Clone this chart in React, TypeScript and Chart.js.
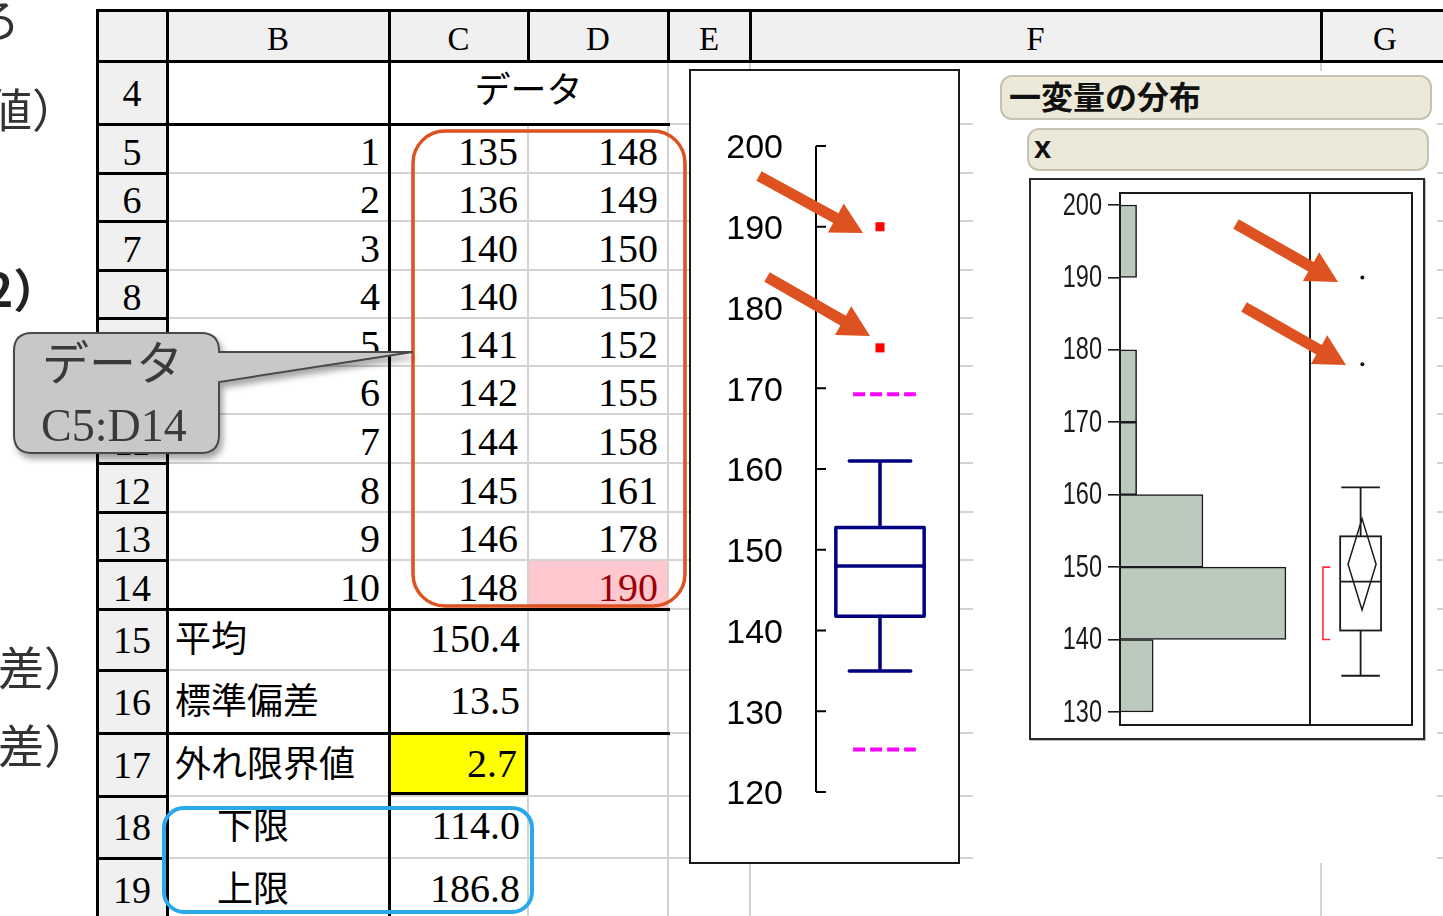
import React, { useEffect, useRef } from 'react';
import { Chart, registerables } from 'chart.js';

Chart.register(...registerables);

// ---------- spreadsheet contents ----------
const columnLetters = ['B', 'C', 'D', 'E', 'F', 'G'];
const rowNumbers = [4, 5, 6, 7, 8, 9, 10, 11, 12, 13, 14, 15, 16, 17, 18, 19];
const sampleNumbers = [1, 2, 3, 4, 5, 6, 7, 8, 9, 10];
const dataC = [135, 136, 140, 140, 141, 142, 144, 145, 146, 148];
const dataD = [148, 149, 150, 150, 152, 155, 158, 161, 178, 190];
const statLabels = ['平均', '標準偏差', '外れ限界値', '下限', '上限'];
const statValues = ['150.4', '13.5', '2.7', '114.0', '186.8'];
const dataHeader = 'データ';
const calloutLines = ['データ', 'C5:D14'];
const sideFragments = ['ろ', '値）', '2）', '差）', '差）'];

// ---------- Excel box plot ----------
const excelBox = [135, 141.75, 148, 152.75, 161]; // low whisker, Q1, median, Q3, high whisker
const excelOutliers = [190, 175];
const excelFences = [169.25, 125.25];
const excelTicks = [120, 130, 140, 150, 160, 170, 180, 190, 200];

// ---------- JMP distribution ----------
const jmpTitle = '一変量の分布';
const jmpVar = 'x';
const histBinCenters = [135, 145, 155, 165, 175, 185, 195];
const histCounts = [2, 10, 5, 1, 1, 0, 1];
const jmpBox = [135, 141.25, 148, 154.25, 161];
const jmpOutliers = [178, 190];
const jmpMeanDiamond = [144.1, 150.4, 156.7];
const jmpShortestHalf = [140, 150];
const jmpTicks = [130, 140, 150, 160, 170, 180, 190, 200];

// ---------- layout ----------
const COLS = [97, 167, 389, 528, 668, 750, 1321, 1449];
const ROWS = [10, 61, 124, 173, 221, 270, 318, 366, 414, 463, 512, 560, 609, 670, 733, 796, 858, 922];

const SERIF = '"Liberation Serif", "Times New Roman", serif';
const JP = '"Noto Sans CJK JP", "Noto Sans", sans-serif';
const SANS = '"Liberation Sans", Arial, sans-serif';
const GREY = '#d3d3d3';
const BLACK = '#000';
const ORANGE = '#dd5220';

function Cell(props: any) {
  const { x1, x2, y1, y2, children, align = 'center', font = SERIF, size = 40, color = '#000', pad = 10, dy = 0, weight = 'normal' } = props;
  return (
    <div
      style={{
        position: 'absolute', left: x1, top: y1 + dy, width: x2 - x1, height: y2 - y1,
        display: 'flex', alignItems: 'center',
        justifyContent: align === 'left' ? 'flex-start' : align === 'right' ? 'flex-end' : 'center',
        paddingLeft: align === 'left' ? pad : 0, paddingRight: align === 'right' ? pad : 0,
        boxSizing: 'border-box', fontFamily: font, fontSize: size, lineHeight: 1, color,
        whiteSpace: 'nowrap', fontWeight: weight,
      }}
    >
      {children}
    </div>
  );
}

function hl(x1: number, x2: number, y: number, w: number, c: string, k: string) {
  return <div key={k} style={{ position: 'absolute', left: x1 - w / 2, top: y - w / 2, width: x2 - x1 + w, height: w, background: c }} />;
}
function vl(x: number, y1: number, y2: number, w: number, c: string, k: string) {
  return <div key={k} style={{ position: 'absolute', left: x - w / 2, top: y1 - w / 2, width: w, height: y2 - y1 + w, background: c }} />;
}

function arrowPoints(sx: number, sy: number, tx: number, ty: number, shaft = 11, headW = 33, headL = 31) {
  const dx = tx - sx, dy = ty - sy;
  const L = Math.hypot(dx, dy);
  const ux = dx / L, uy = dy / L;
  const nx = -uy, ny = ux;
  const bx = tx - ux * headL, by = ty - uy * headL;
  const hs = shaft / 2, hh = headW / 2;
  const pts = [
    [sx + nx * hs, sy + ny * hs], [bx + nx * hs, by + ny * hs], [bx + nx * hh, by + ny * hh], [tx, ty],
    [bx - nx * hh, by - ny * hh], [bx - nx * hs, by - ny * hs], [sx - nx * hs, sy - ny * hs],
  ];
  return pts.map((p) => p.map((v) => v.toFixed(1)).join(',')).join(' ');
}

function ExcelBoxChart() {
  const ref = useRef<HTMLCanvasElement>(null);
  useEffect(() => {
    const boxPlugin = {
      id: 'excelBoxDecor',
      afterDatasetsDraw(chart: any) {
        const { ctx, scales } = chart;
        const x = scales.x, y = scales.y;
        ctx.save();
        // axis with inward ticks
        const ax = x.left;
        ctx.strokeStyle = '#000';
        ctx.lineWidth = 2;
        ctx.beginPath();
        ctx.moveTo(ax, y.getPixelForValue(excelTicks[excelTicks.length - 1]));
        ctx.lineTo(ax, y.getPixelForValue(excelTicks[0]));
        excelTicks.forEach((t) => {
          const py = y.getPixelForValue(t);
          ctx.moveTo(ax, py);
          ctx.lineTo(ax + 10, py);
        });
        ctx.stroke();
        // box plot
        const px = (v: number) => x.getPixelForValue(v);
        const [lo, q1, md, q3, hi] = excelBox.map((v) => y.getPixelForValue(v));
        const c = 1;
        ctx.strokeStyle = '#000080';
        ctx.lineWidth = 3.5;
        ctx.lineCap = 'round';
        ctx.beginPath();
        ctx.moveTo(px(c), hi); ctx.lineTo(px(c), q3);
        ctx.moveTo(px(c), q1); ctx.lineTo(px(c), lo);
        ctx.moveTo(px(c - 0.48), hi); ctx.lineTo(px(c + 0.48), hi);
        ctx.moveTo(px(c - 0.48), lo); ctx.lineTo(px(c + 0.48), lo);
        ctx.moveTo(px(c - 0.69), md); ctx.lineTo(px(c + 0.69), md);
        ctx.stroke();
        ctx.lineCap = 'butt';
        ctx.lineJoin = 'round';
        ctx.strokeRect(px(c - 0.69), q3, px(c + 0.69) - px(c - 0.69), q1 - q3);
        ctx.restore();
      },
    };
    const fenceSet = (v: number) => ({
      type: 'line',
      data: [{ x: 0.58, y: v }, { x: 1.56, y: v }],
      borderColor: '#ff00ff', borderWidth: 4, borderDash: [12, 5], pointRadius: 0, fill: false,
    });
    const chart = new Chart(ref.current as HTMLCanvasElement, {
      type: 'scatter',
      data: {
        datasets: [
          ...excelFences.map(fenceSet),
          {
            type: 'scatter',
            data: excelOutliers.map((v) => ({ x: 1, y: v })),
            pointStyle: 'rect', pointRadius: 6.4, backgroundColor: '#ff0000', borderColor: '#ff0000', borderWidth: 0,
          },
        ] as any,
      },
      options: {
        animation: false, responsive: false, maintainAspectRatio: false, events: [],
        layout: { padding: { top: 75, bottom: 70, left: 0, right: 14 } },
        plugins: { legend: { display: false }, tooltip: { enabled: false } },
        scales: {
          x: { type: 'linear', min: 0, max: 2, display: false },
          y: {
            type: 'linear', min: 120, max: 200,
            afterBuildTicks: (s: any) => { s.ticks = excelTicks.map((v) => ({ value: v })); },
            afterFit: (s: any) => { s.width = 125; s.paddingTop = 0; s.paddingBottom = 0; },
            grid: { display: false, drawTicks: false },
            border: { display: false },
            ticks: { padding: 33, labelOffset: 3, color: '#000', font: { family: SANS, size: 34 } },
          },
        },
      } as any,
      plugins: [boxPlugin],
    });
    return () => chart.destroy();
  }, []);
  return <canvas ref={ref} width={267} height={791} style={{ display: 'block', width: 267, height: 791 }} />;
}

function JmpChart() {
  const ref = useRef<HTMLCanvasElement>(null);
  useEffect(() => {
    const jmpPlugin = {
      id: 'jmpDecor',
      afterDatasetsDraw(chart: any) {
        const { ctx, chartArea: a, scales } = chart;
        const y = scales.y, xb = scales.xb;
        const px = (v: number) => xb.getPixelForValue(v);
        ctx.save();
        ctx.strokeStyle = '#1a1a1a';
        ctx.lineWidth = 2;
        ctx.strokeRect(a.left, a.top, a.right - a.left, a.bottom - a.top);
        ctx.beginPath();
        ctx.moveTo(px(0.6507), a.top);
        ctx.lineTo(px(0.6507), a.bottom);
        ctx.stroke();
        // outlier box plot
        const [lo, q1, md, q3, hi] = jmpBox.map((v) => y.getPixelForValue(v));
        const c = 0.824;
        ctx.lineWidth = 1.8;
        ctx.beginPath();
        ctx.moveTo(px(c), hi); ctx.lineTo(px(c), q3);
        ctx.moveTo(px(c), q1); ctx.lineTo(px(c), lo);
        ctx.moveTo(px(c - 0.066), hi); ctx.lineTo(px(c + 0.066), hi);
        ctx.moveTo(px(c - 0.066), lo); ctx.lineTo(px(c + 0.066), lo);
        ctx.moveTo(px(c - 0.07), md); ctx.lineTo(px(c + 0.07), md);
        ctx.stroke();
        ctx.strokeRect(px(c - 0.07), q3, px(c + 0.07) - px(c - 0.07), q1 - q3);
        // means diamond
        const [dl, dm, dh] = jmpMeanDiamond.map((v) => y.getPixelForValue(v));
        const dc = 0.829, dw = 0.048;
        ctx.lineWidth = 1.5;
        ctx.beginPath();
        ctx.moveTo(px(dc), dh);
        ctx.lineTo(px(dc + dw), dm);
        ctx.lineTo(px(dc), dl);
        ctx.lineTo(px(dc - dw), dm);
        ctx.closePath();
        ctx.stroke();
        // shortest half bracket
        const [s0, s1] = jmpShortestHalf.map((v) => y.getPixelForValue(v));
        const bx = px(0.695), arm = px(0.72);
        ctx.strokeStyle = '#ff2a3a';
        ctx.lineWidth = 1.6;
        ctx.beginPath();
        ctx.moveTo(arm, s1); ctx.lineTo(bx, s1); ctx.lineTo(bx, s0); ctx.lineTo(arm, s0);
        ctx.stroke();
        ctx.restore();
      },
      afterDraw(chart: any) {
        // condensed tick labels (JMP style), taken from the y scale's own ticks
        const { ctx, scales } = chart;
        const y = scales.y;
        ctx.save();
        ctx.fillStyle = '#1a1a1a';
        ctx.font = `31px ${SANS}`;
        ctx.textAlign = 'right';
        ctx.textBaseline = 'middle';
        y.ticks.forEach((t: any) => {
          const py = y.getPixelForValue(t.value);
          ctx.save();
          ctx.translate(y.right - 18, py + 1);
          ctx.scale(0.76, 1);
          ctx.fillText(t.label, 0, 0);
          ctx.restore();
        });
        ctx.restore();
      },
    };
    const chart = new Chart(ref.current as HTMLCanvasElement, {
      type: 'scatter',
      data: {
        datasets: [
          {
            type: 'bar', indexAxis: 'y', xAxisID: 'x', yAxisID: 'y', grouped: false,
            data: histBinCenters.map((b, i) => ({ x: histCounts[i], y: b })),
            backgroundColor: '#bccabd', borderColor: '#1a1a1a', borderWidth: 1.5,
            barPercentage: 1, categoryPercentage: 1,
          },
          {
            type: 'scatter', xAxisID: 'xb', yAxisID: 'y',
            data: jmpOutliers.map((v) => ({ x: 0.83, y: v })),
            pointRadius: 2, backgroundColor: '#111', borderWidth: 0,
          },
        ] as any,
      },
      options: {
        animation: false, responsive: false, maintainAspectRatio: false, events: [],
        layout: { padding: { top: 13, bottom: 13, left: 0, right: 11 } },
        plugins: { legend: { display: false }, tooltip: { enabled: false } },
        scales: {
          x: { type: 'linear', min: 0, max: 17.6, display: false, offset: false },
          xb: { type: 'linear', axis: 'x', min: 0, max: 1, display: false, offset: false },
          y: {
            type: 'linear', position: 'left', min: 128.2, max: 201.66, offset: false,
            afterBuildTicks: (s: any) => { s.ticks = jmpTicks.map((v) => ({ value: v })); },
            afterFit: (s: any) => { s.width = 89; s.paddingTop = 0; s.paddingBottom = 0; },
            grid: { offset: false, drawOnChartArea: false, drawTicks: true, tickLength: 12, color: '#1a1a1a', lineWidth: 1.6 },
            border: { display: false },
            ticks: { display: false },
          },
        },
      } as any,
      plugins: [jmpPlugin],
    });
    return () => chart.destroy();
  }, []);
  return <canvas ref={ref} width={392} height={558} style={{ display: 'block', width: 392, height: 558 }} />;
}

export default function App() {
  const lines: any[] = [];
  // grey gridlines
  ROWS.slice(1).forEach((y, i) => lines.push(hl(167, 1449, y, 2, GREY, 'gh' + i)));
  COLS.slice(2).forEach((x, i) => {
    const y1 = x === 528 ? 124 : 61;
    lines.push(vl(x, y1, 922, 2, GREY, 'gv' + i));
  });
  // black lines
  lines.push(hl(97, 1449, 10, 3, BLACK, 'bt'));
  lines.push(hl(97, 1449, 61, 3, BLACK, 'bh'));
  COLS.slice(0, 7).forEach((x, i) => lines.push(vl(x, 10, 61, 3, BLACK, 'bhv' + i)));
  lines.push(vl(97, 10, 922, 3, BLACK, 'bl0'));
  lines.push(vl(167, 10, 922, 3, BLACK, 'bl1'));
  lines.push(vl(389, 61, 922, 3, BLACK, 'bl2'));
  ROWS.slice(1).forEach((y, i) => lines.push(hl(97, 167, y, 3, BLACK, 'brh' + i)));
  [124, 609, 733].forEach((y, i) => lines.push(hl(167, 668, y, 3, BLACK, 'bb' + i)));

  const texts: any[] = [];
  columnLetters.forEach((l, i) =>
    texts.push(<Cell key={'cl' + i} x1={COLS[i + 1]} x2={COLS[i + 2]} y1={ROWS[0]} y2={ROWS[1]} size={33} dy={4}>{l}</Cell>)
  );
  rowNumbers.forEach((n, i) =>
    texts.push(<Cell key={'rn' + i} x1={97} x2={167} y1={ROWS[i + 1]} y2={ROWS[i + 2]} size={38} dy={i >= 1 && i <= 10 ? 3 : 0}>{n}</Cell>)
  );
  texts.push(<Cell key="dh" x1={389} x2={668} y1={ROWS[1]} y2={ROWS[2]} font={JP} size={36} dy={-6}>{dataHeader}</Cell>);
  sampleNumbers.forEach((n, i) => {
    const y1 = ROWS[i + 2], y2 = ROWS[i + 3];
    texts.push(<Cell key={'sn' + i} x1={167} x2={389} y1={y1} y2={y2} align="right" pad={9} dy={3}>{n}</Cell>);
    texts.push(<Cell key={'dc' + i} x1={389} x2={528} y1={y1} y2={y2} align="right" pad={10} dy={3}>{dataC[i]}</Cell>);
    texts.push(
      <Cell key={'dd' + i} x1={528} x2={668} y1={y1} y2={y2} align="right" pad={10} dy={3} color={i === 9 ? '#9c0006' : '#000'}>{dataD[i]}</Cell>
    );
  });
  statLabels.forEach((l, i) => {
    const y1 = ROWS[i + 12], y2 = ROWS[i + 13];
    texts.push(<Cell key={'sl' + i} x1={167} x2={389} y1={y1} y2={y2} align="left" pad={i >= 3 ? 50 : 8} font={JP} size={36} dy={-4}>{l}</Cell>);
    texts.push(<Cell key={'sv' + i} x1={389} x2={528} y1={y1} y2={y2} align="right" pad={i === 2 ? 11 : 8} dy={-1}>{statValues[i]}</Cell>);
  });

  const arrows = [
    [759, 176, 863, 233],
    [767, 277, 870, 336],
    [1236, 224, 1338, 282],
    [1244, 307, 1346, 365],
  ];

  const r = 18;
  const L = 14, T = 333, R = 219, B = 453;
  const calloutPath =
    `M ${L + r} ${T} L ${R - r} ${T} Q ${R} ${T} ${R} ${T + r} L ${R} 352 L 413 352 L ${R} 382 ` +
    `L ${R} ${B - r} Q ${R} ${B} ${R - r} ${B} L ${L + r} ${B} Q ${L} ${B} ${L} ${B - r} L ${L} ${T + r} Q ${L} ${T} ${L + r} ${T} Z`;

  const fragStyle = (left: number, top: number, weight = 'normal', color = '#333'): any => ({
    position: 'absolute', left, top, fontFamily: JP, fontSize: 46, lineHeight: 1, color, fontWeight: weight, whiteSpace: 'nowrap',
  });

  return (
    <div style={{ position: 'absolute', left: 0, top: 0, width: 1443, height: 916, overflow: 'hidden', background: '#fff' }}>
      {/* header backgrounds */}
      <div style={{ position: 'absolute', left: 97, top: 10, width: 1352, height: 51, background: '#f0f0f0' }} />
      <div style={{ position: 'absolute', left: 97, top: 10, width: 70, height: 912, background: '#f0f0f0' }} />
      {/* highlighted cells */}
      <div style={{ position: 'absolute', left: 528, top: 560, width: 141, height: 49, background: '#ffc7ce' }} />
      {lines}
      <div style={{ position: 'absolute', left: 388, top: 732, width: 140, height: 63, background: '#ffff00', border: '3px solid #000', boxSizing: 'border-box' }} />
      {texts}

      {/* Excel box plot panel */}
      <div style={{ position: 'absolute', left: 689, top: 69, width: 271, height: 795, border: '2px solid #1a1a1a', boxSizing: 'border-box', background: '#fff' }}>
        <ExcelBoxChart />
      </div>

      {/* JMP panel */}
      <div style={{ position: 'absolute', left: 973, top: 71, width: 464, height: 792, background: '#fff' }} />
      <div style={{ position: 'absolute', left: 1000, top: 75, width: 432, height: 45, background: '#ece9d8', border: '2px solid #c6c3b3', borderRadius: 12, boxSizing: 'border-box' }} />
      <Cell x1={1009} x2={1400} y1={75} y2={120} align="left" pad={0} font={JP} size={32} weight="bold" color="#111" dy={-3}>{jmpTitle}</Cell>
      <div style={{ position: 'absolute', left: 1027, top: 128, width: 402, height: 43, background: '#ece9d8', border: '2px solid #c6c3b3', borderRadius: 12, boxSizing: 'border-box' }} />
      <Cell x1={1034} x2={1400} y1={128} y2={171} align="left" pad={0} font={SANS} size={31} weight="bold" color="#111" dy={-2}>{jmpVar}</Cell>
      <div style={{ position: 'absolute', left: 1029, top: 178, width: 396, height: 562, border: '2px solid #2a2a2a', boxSizing: 'border-box', background: '#fff', boxShadow: '1px 1px 0 #bbb' }}>
        <JmpChart />
      </div>

      {/* annotations */}
      <svg width={1443} height={916} style={{ position: 'absolute', left: 0, top: 0, pointerEvents: 'none' }}>
        <rect x={413} y={131} width={272} height={475} rx={32} ry={32} fill="none" stroke={ORANGE} strokeWidth={3.5} />
        <rect x={164} y={808} width={368} height={104} rx={20} ry={20} fill="none" stroke="#29a8ec" strokeWidth={4} />
        {arrows.map((a, i) => (
          <polygon key={'ar' + i} points={arrowPoints(a[0], a[1], a[2], a[3])} fill={ORANGE} />
        ))}
      </svg>

      {/* callout */}
      <svg width={1443} height={916} style={{ position: 'absolute', left: 0, top: 0, pointerEvents: 'none' }}>
        <defs>
          <filter id="sh" x="-20%" y="-20%" width="140%" height="150%">
            <feDropShadow dx="3" dy="5" stdDeviation="3" floodColor="#000" floodOpacity="0.35" />
          </filter>
        </defs>
        <path d={calloutPath} fill="#c8c8c8" stroke="#4a4a4a" strokeWidth={2} filter="url(#sh)" />
      </svg>
      <div style={{ position: 'absolute', left: 42, top: 336, fontFamily: JP, fontSize: 47, lineHeight: 1, color: '#3a3a3a', whiteSpace: 'nowrap' }}>{calloutLines[0]}</div>
      <div style={{ position: 'absolute', left: 41, top: 403, fontFamily: SERIF, fontSize: 46, lineHeight: 1, color: '#3a3a3a', whiteSpace: 'nowrap' }}>{calloutLines[1]}</div>

      {/* fragments of text from the left */}
      <div style={fragStyle(-26, -6)}>{sideFragments[0]}</div>
      <div style={fragStyle(-14, 84)}>{sideFragments[1]}</div>
      <div style={fragStyle(-14, 264, 'bold', '#222')}>{sideFragments[2]}</div>
      <div style={fragStyle(-2, 642)}>{sideFragments[3]}</div>
      <div style={fragStyle(-2, 720)}>{sideFragments[4]}</div>
    </div>
  );
}
